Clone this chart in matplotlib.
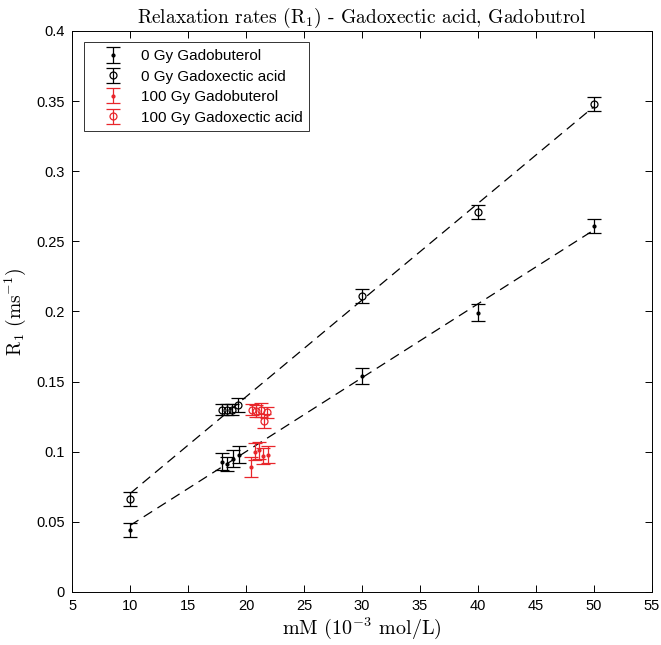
import numpy as np
import matplotlib
matplotlib.use("Agg")
import matplotlib.pyplot as plt

plt.rcParams["font.family"] = "Liberation Sans"
plt.rcParams["mathtext.fontset"] = "cm"

# 0 Gy Gadobuterol
gb0_x = [10, 17.9, 18.35, 18.9, 19.4, 30, 40, 50]
gb0_y = [0.044, 0.093, 0.091, 0.095, 0.098, 0.154, 0.199, 0.261]
gb0_e = [0.005, 0.006, 0.005, 0.006, 0.006, 0.006, 0.006, 0.005]

# 0 Gy Gadoxectic acid
gx0_x = [10, 17.9, 18.35, 18.8, 19.35, 30, 40, 50]
gx0_y = [0.066, 0.130, 0.130, 0.130, 0.133, 0.211, 0.271, 0.348]
gx0_e = [0.005, 0.004, 0.004, 0.004, 0.005, 0.005, 0.005, 0.005]

# 100 Gy Gadobuterol
gb100_x = [20.4, 20.8, 21.15, 21.5, 21.9]
gb100_y = [0.089, 0.100, 0.101, 0.097, 0.098]
gb100_e = [0.007, 0.006, 0.006, 0.006, 0.006]

# 100 Gy Gadoxectic acid
gx100_x = [20.5, 20.9, 21.3, 21.55, 21.85]
gx100_y = [0.130, 0.129, 0.130, 0.122, 0.128]
gx100_e = [0.004, 0.004, 0.005, 0.005, 0.004]

red = "#e8262b"

fig = plt.figure(figsize=(6.61, 6.45), dpi=100)
ax = fig.add_axes([0.109, 0.0822, 0.877, 0.8698])

# linear fits through the 0 Gy data
for xs, ys in [(gb0_x, gb0_y), (gx0_x, gx0_y)]:
    k, m = np.polyfit(xs, ys, 1)
    fx = np.array([min(xs), max(xs)])
    ax.plot(fx, k * fx + m, color="k", lw=0.9, linestyle=(0, (8, 5)))

style = dict(capsize=4.8, elinewidth=0.9, capthick=0.9)
ax.errorbar(gb0_x, gb0_y, yerr=gb0_e, fmt=".", color="k", ms=4,
            label="0 Gy Gadobuterol", **style)
ax.errorbar(gx0_x, gx0_y, yerr=gx0_e, fmt="o", color="k", mfc="none", ms=5,
            mew=0.9, label="0 Gy Gadoxectic acid", **style)
ax.errorbar(gb100_x, gb100_y, yerr=gb100_e, fmt=".", color=red, ms=4,
            label="100 Gy Gadobuterol", **style)
ax.errorbar(gx100_x, gx100_y, yerr=gx100_e, fmt="o", color=red, mfc="none", ms=5,
            mew=0.9, label="100 Gy Gadoxectic acid", **style)

ax.set_xlim(5, 55)
ax.set_ylim(0, 0.4)
ax.set_xticks(np.arange(5, 56, 5))
ax.set_yticks(np.arange(0, 0.41, 0.05))
ax.set_yticklabels(["0", "0.05", "0.1", "0.15", "0.2", "0.25", "0.3", "0.35", "0.4"])
ax.tick_params(direction="in", top=True, right=True, length=5, width=0.7,
               labelsize=10.5, pad=5)
for s in ax.spines.values():
    s.set_linewidth(0.7)

ax.set_title("Relaxation rates (R$_1$) - Gadoxectic acid, Gadobutrol",
             fontsize=14, fontfamily="cmr10", pad=6)
ax.set_xlabel(r"mM (10$^{-3}$ mol/L)", fontsize=14.5, fontfamily="cmr10",
              labelpad=2)
ax.set_ylabel(r"R$_1$ (ms$^{-1}$)", fontsize=14, fontfamily="cmr10", labelpad=6)

leg = ax.legend(loc="upper left", fontsize=11, frameon=True, fancybox=False,
                edgecolor="k", borderaxespad=0.75, handlelength=3.0,
                handletextpad=0.3, labelspacing=0.42, borderpad=0.45)
leg.get_frame().set_linewidth(0.7)

fig.savefig("out.png", dpi=100)
